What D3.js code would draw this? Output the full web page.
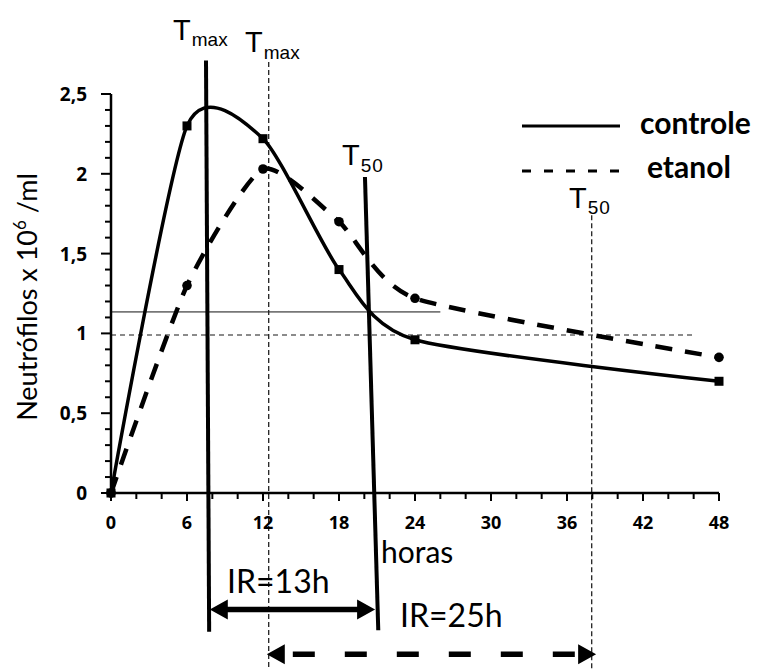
<!DOCTYPE html>
<html>
<head>
<meta charset="utf-8">
<script src="https://cdn.jsdelivr.net/npm/d3@7"></script>
<style>
  body { margin: 0; background: #fff; }
  svg { display: block; }
  .calib { font-family: Lato, "Open Sans", sans-serif; }
  .tick { font-family: "Open Sans", sans-serif; font-weight: bold; }
  .arial { font-family: "Liberation Sans", Arial, sans-serif; }
</style>
</head>
<body>
<svg width="771" height="670"></svg>
<script>
// data
const hours = [0, 6, 12, 18, 24, 48];
const controle = [0, 2.3, 2.22, 1.4, 0.96, 0.7];
const etanol = [0, 1.3, 2.03, 1.7, 1.22, 0.85];

const xTicks = [0, 6, 12, 18, 24, 30, 36, 42, 48];
const yTicks = [0, 0.5, 1, 1.5, 2, 2.5];
const yTickLabels = ["0", "0,5", "1", "1,5", "2", "2,5"];

// reference lines (hours / values)
const tmaxControle = [[7.5, 2.71], [7.75, -0.87]];
const t50Controle = [[20.05, 1.98], [21.1, -0.86]];
const tmaxEtanol = [[12.45, 2.7], [12.45, -1.2]];
const t50Etanol = [[37.95, 1.74], [37.95, -1.2]];
const halfControle = [[0, 1.135], [26, 1.135]];
const halfEtanol = [[0, 0.99], [46, 0.99]];
const irControle = [7.8, 20.85, -0.73];
const irEtanol = [12.3, 38.3, -1.01];

const svg = d3.select("svg");
const x = d3.scaleLinear().domain([0, 48]).range([111, 719]);
const y = d3.scaleLinear().domain([0, 2.5]).range([493, 94]);

const seg = d3.line().x(d => x(d[0])).y(d => y(d[1]));

// thin helper lines
svg.append("path").attr("d", seg(halfControle))
  .attr("stroke", "#777").attr("stroke-width", 1.6).attr("fill", "none");
svg.append("path").attr("d", seg(halfEtanol))
  .attr("stroke", "#666").attr("stroke-width", 1.3).attr("stroke-dasharray", "5,4").attr("fill", "none");
[tmaxEtanol, t50Etanol].forEach(l => {
  svg.append("path").attr("d", seg(l))
    .attr("stroke", "#222").attr("stroke-width", 1.3).attr("stroke-dasharray", "5,3").attr("fill", "none");
});

// axes
const yMinor = d3.range(0, 2.51, 0.1);
svg.append("line").attr("x1", x(0)).attr("x2", x(0)).attr("y1", y(2.5)).attr("y2", y(0))
  .attr("stroke", "#000").attr("stroke-width", 2.5);
svg.append("g").selectAll("line").data(yMinor).join("line")
  .attr("x1", d => Math.abs(d * 2 - Math.round(d * 2)) < 1e-6 ? x(0) - 10 : x(0) - 6)
  .attr("x2", x(0)).attr("y1", d => y(d)).attr("y2", d => y(d))
  .attr("stroke", "#000").attr("stroke-width", 2);
svg.append("g").selectAll("text").data(yTicks).join("text")
  .attr("class", "tick")
  .attr("x", x(0) - 24).attr("y", d => y(d) + 7)
  .attr("text-anchor", "end").attr("font-size", 19)
  .text((d, i) => yTickLabels[i]);

const xMinor = d3.range(0, 49, 2);
svg.append("line").attr("x1", x(0)).attr("x2", x(48)).attr("y1", y(0)).attr("y2", y(0))
  .attr("stroke", "#000").attr("stroke-width", 2.5);
svg.append("g").selectAll("line").data(xMinor).join("line")
  .attr("x1", d => x(d)).attr("x2", d => x(d))
  .attr("y1", y(0)).attr("y2", d => d % 6 === 0 ? y(0) + 8 : y(0) + 6)
  .attr("stroke", "#000").attr("stroke-width", 2);
svg.append("g").selectAll("text").data(xTicks).join("text")
  .attr("class", "tick")
  .attr("x", d => x(d)).attr("y", y(0) + 36)
  .attr("text-anchor", "middle").attr("font-size", 18)
  .text(d => d);

// series
const pts = vals => hours.map((h, i) => [h, vals[i]]);
const smooth = t => d3.line().x(d => x(d[0])).y(d => y(d[1])).curve(d3.curveCardinal.tension(t));

svg.append("path").attr("d", smooth(0.4)(pts(etanol)))
  .attr("fill", "none").attr("stroke", "#000").attr("stroke-width", 4.5)
  .attr("stroke-dasharray", "17,13");
svg.append("path").attr("d", smooth(0.3)(pts(controle)))
  .attr("fill", "none").attr("stroke", "#000").attr("stroke-width", 3.5);

svg.append("g").selectAll("circle").data(pts(etanol)).join("circle")
  .attr("cx", d => x(d[0])).attr("cy", d => y(d[1])).attr("r", 4.8).attr("fill", "#000");
svg.append("g").selectAll("rect").data(pts(controle)).join("rect")
  .attr("x", d => x(d[0]) - 4.5).attr("y", d => y(d[1]) - 4.5)
  .attr("width", 9).attr("height", 9).attr("fill", "#000");

// thick T lines
[tmaxControle, t50Controle].forEach(l => {
  svg.append("path").attr("d", seg(l)).attr("stroke", "#000").attr("stroke-width", 4).attr("fill", "none");
});

// IR arrows
function arrow(a, dashed) {
  const x1 = x(a[0]), x2 = x(a[1]), yy = y(a[2]);
  const L = 18, H = 10;
  svg.append("line")
    .attr("x1", x1 + L - 2).attr("x2", x2 - L + 2).attr("y1", yy).attr("y2", yy)
    .attr("stroke", "#000").attr("stroke-width", 5.5)
    .attr("stroke-dasharray", dashed ? "0,10,22,20" : null);
  svg.append("path")
    .attr("d", `M${x1},${yy}L${x1 + L},${yy - H}L${x1 + L},${yy + H}Z M${x2},${yy}L${x2 - L},${yy - H}L${x2 - L},${yy + H}Z`)
    .attr("fill", "#000");
}
arrow(irControle, false);
arrow(irEtanol, true);

// T labels
function tLabel(px, py, sub, subDy) {
  const t = svg.append("text").attr("class", "arial").attr("x", px).attr("y", py).attr("font-size", 29);
  t.append("tspan").text("T");
  t.append("tspan").attr("font-size", 19).attr("dx", 1).attr("dy", subDy).attr("textLength", sub === "max" ? 36 : 22).text(sub);
}
tLabel(173, 40, "max", 6);
tLabel(245, 52, "max", 7);
tLabel(342, 165, "50", 7);
tLabel(569, 208, "50", 6);

// legend
svg.append("line").attr("x1", 522).attr("x2", 620).attr("y1", 126).attr("y2", 126)
  .attr("stroke", "#000").attr("stroke-width", 3);
svg.append("line").attr("x1", 522).attr("x2", 620).attr("y1", 171).attr("y2", 171)
  .attr("stroke", "#000").attr("stroke-width", 3).attr("stroke-dasharray", "9,13");
svg.append("text").attr("class", "calib").attr("x", 640).attr("y", 134)
  .attr("font-size", 30).attr("font-weight", "bold").text("controle");
svg.append("text").attr("class", "calib").attr("x", 647).attr("y", 178)
  .attr("font-size", 30).attr("font-weight", "bold").text("etanol");

// axis title and notes
const yl = svg.append("text").attr("class", "calib")
  .attr("transform", "translate(37,297) rotate(-90)")
  .attr("text-anchor", "middle").attr("font-size", 27);
yl.append("tspan").text("Neutrófilos x 10");
yl.append("tspan").attr("font-size", 17).attr("dy", -11).text("6");
yl.append("tspan").attr("dy", 11).text(" /ml");

svg.append("text").attr("class", "calib").attr("x", 381).attr("y", 563)
  .attr("font-size", 30).text("horas");
svg.append("text").attr("class", "calib").attr("x", 227).attr("y", 593)
  .attr("font-size", 32).text("IR=13h");
svg.append("text").attr("class", "calib").attr("x", 400).attr("y", 627)
  .attr("font-size", 32).text("IR=25h");
</script>
</body>
</html>
